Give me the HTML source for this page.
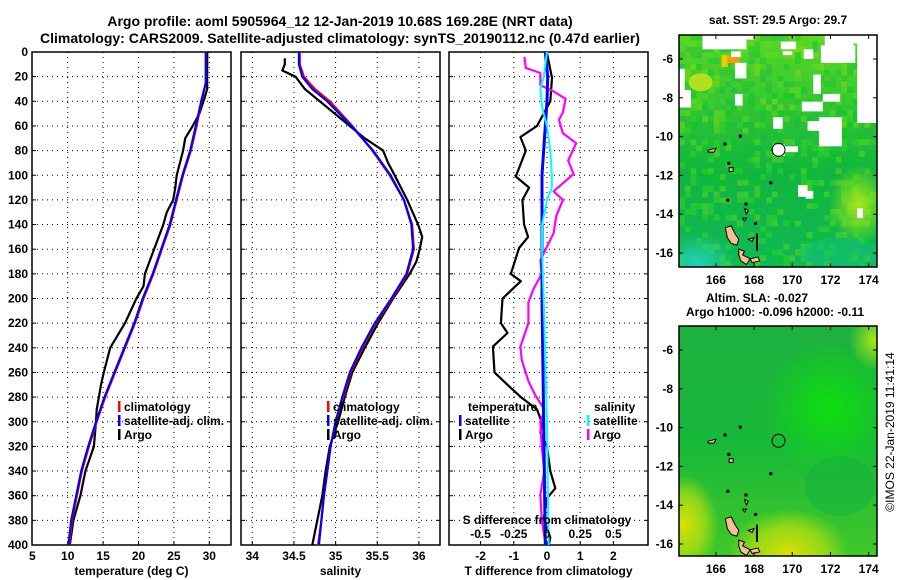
<!DOCTYPE html>
<html><head><meta charset="utf-8"><style>
html,body{margin:0;padding:0;background:#fff;}
svg{display:block;font-family:"Liberation Sans",Arial,sans-serif;font-weight:bold;}
</style></head><body>
<svg id="c" width="900" height="580" viewBox="0 0 900 580" xmlns="http://www.w3.org/2000/svg">
<defs>
<linearGradient id="topg" x1="0" y1="0" x2="0" y2="1">
<stop offset="0" stop-color="#5ed628"/><stop offset="0.35" stop-color="#2dc235"/><stop offset="0.6" stop-color="#12b440"/><stop offset="1" stop-color="#10b858"/></linearGradient>
<radialGradient id="cy" cx="0.5" cy="0.5" r="0.5"><stop offset="0" stop-color="#22d0b8"/><stop offset="1" stop-color="#22d0b8" stop-opacity="0"/></radialGradient>
<radialGradient id="yg" cx="0.5" cy="0.5" r="0.5"><stop offset="0" stop-color="#a8e818"/><stop offset="1" stop-color="#a8e818" stop-opacity="0"/></radialGradient>
<linearGradient id="botg" x1="0" y1="0" x2="0" y2="1">
<stop offset="0" stop-color="#1fb040"/><stop offset="0.5" stop-color="#18b83a"/><stop offset="1" stop-color="#40c828"/></linearGradient>
<radialGradient id="yel" cx="0.5" cy="0.5" r="0.5"><stop offset="0" stop-color="#dde000"/><stop offset="0.6" stop-color="#b8e010" stop-opacity="0.7"/><stop offset="1" stop-color="#b8e010" stop-opacity="0"/></radialGradient>
<radialGradient id="grn" cx="0.5" cy="0.5" r="0.5"><stop offset="0" stop-color="#10dd10"/><stop offset="1" stop-color="#10dd10" stop-opacity="0"/></radialGradient>
</defs>
<g id="titles">
<text x="340" y="26" text-anchor="middle" font-size="14">Argo profile: aoml 5905964_12 12-Jan-2019 10.68S 169.28E (NRT data)</text>
<text x="340" y="43" text-anchor="middle" font-size="14">Climatology: CARS2009. Satellite-adjusted climatology: synTS_20190112.nc (0.47d earlier)</text>
<text x="778" y="24" text-anchor="middle" font-size="12">sat. SST: 29.5 Argo: 29.7</text>
<text x="757" y="302" text-anchor="middle" font-size="12">Altim. SLA: -0.027</text>
<text x="775" y="316" text-anchor="middle" font-size="12">Argo h1000: -0.096 h2000: -0.11</text>
<text transform="translate(894,432) rotate(-90)" text-anchor="middle" font-size="12" font-weight="normal">©IMOS 22-Jan-2019 11:41:14</text>
</g>
<g id="plots"></g>
<g id="maps"></g>
</svg>
<script>
// ---------- data ----------
const depthTicks = [0,20,40,60,80,100,120,140,160,180,200,220,240,260,280,300,320,340,360,380,400];
const tempTicks = [5,10,15,20,25,30];
const salTicks = [34,34.5,35,35.5,36];
const salTickLabels = ["34","34.5","35","35.5","36"];
const tdiffTicks = [-2,-1,0,1,2];
const sdiffTicks = [-0.5,-0.25,0,0.25,0.5];
const sdiffTickLabels = ["-0.5","-0.25","0","0.25","0.5"];

const argoTDepth = [0,30,38,50,60,70,80,100,110,120,130,140,160,180,190,200,220,240,260,270,290,300,320,340,360,380,400];
const argoTemp = [29.7,29.7,29.3,28.6,27.65,26.6,26.3,25.4,25.2,24.9,24.0,23.5,22.2,20.9,20.7,19.7,18.1,16.0,15.1,14.7,14.1,14.0,13.7,12.5,11.8,10.8,10.3];
const climDepth = [0,25,40,60,80,100,120,140,160,180,200,220,240,260,280,300,320,340,360,380,400];
const climTemp = [29.5,29.5,28.9,28.2,27.4,26.3,25.4,24.5,23.3,22.1,20.7,19.5,18.1,16.7,15.3,14.1,13.0,12.0,11.3,10.6,10.2];
const satTemp = [29.5,29.5,28.85,28.1,27.3,26.2,25.3,24.4,23.2,22.0,20.6,19.4,18.0,16.6,15.2,14.0,12.9,11.9,11.2,10.5,10.1];

const argoSDepth = [5,10,15,20,30,40,50,60,70,80,90,100,120,140,150,160,170,180,200,220,240,260,280,300,320,340,360,380,400];
const argoSal = [34.39,34.39,34.36,34.52,34.63,34.81,34.99,35.17,35.35,35.57,35.63,35.71,35.86,35.99,36.04,36.01,35.97,35.89,35.69,35.51,35.35,35.20,35.11,35.03,34.93,34.88,34.84,34.78,34.72];
const climSDepth = [0,10,20,30,40,60,80,100,120,140,160,180,200,220,240,260,280,300,320,340,360,380,400];
const climSal = [34.57,34.57,34.62,34.75,34.93,35.20,35.44,35.65,35.82,35.92,35.94,35.86,35.68,35.48,35.32,35.18,35.09,35.00,34.94,34.90,34.86,34.83,34.79];
const satSal = [34.56,34.56,34.60,34.72,34.90,35.19,35.45,35.66,35.82,35.91,35.93,35.85,35.67,35.47,35.31,35.17,35.08,35.00,34.94,34.90,34.86,34.83,34.80];

const argoTdDepth = [1,21,40,60,69,80,101,110,120,140,150,159,180,186,200,220,228,239,260,270,280,290,301,309,320,340,354,362,379,394,400];
const argoTdiff = [0,0.15,0.1,-0.3,-0.8,-0.64,-0.94,-0.54,-0.74,-0.69,-0.57,-0.84,-1.09,-0.79,-1.34,-1.39,-1.19,-1.63,-1.58,-1.19,-0.79,-0.3,-0.15,-0.2,0,0.1,0.25,0,-0.1,0.1,0.05];
const satTdDepth = [0,20,40,60,100,200,300,400];
const satTdiff = [-0.05,0.02,0,-0.05,-0.15,-0.15,-0.1,-0.05];
const argoSdDepth = [4,13,17,27,32,38,49,55,66,74,88,99,113,120,133,147,158,169,180,192,203,220,239,250,267,278,290,301,320,340,359,379,400];
const argoSdiff = [-0.17,-0.16,-0.05,-0.05,0.05,0.14,0.12,0.09,0.12,0.22,0.16,0.2,0.05,0.12,0.07,0.05,0,-0.05,-0.04,-0.1,-0.14,-0.14,-0.2,-0.19,-0.14,-0.09,-0.02,-0.05,-0.04,-0.02,-0.05,-0.04,-0.01];
const satSdDepth = [0,20,30,45,60,80,100,110,120,140,160,200,300,400];
const satSdiff = [0,-0.025,-0.05,-0.037,0,0.025,0.037,0.037,0,-0.037,-0.037,-0.025,0,0.012];

const lonTicks = [166,168,170,172,174];
const latTicks = [-6,-8,-10,-12,-14,-16];
const argoLon = [169.28];
const argoLat = [-10.68];

// ---------- scales ----------
const Y0 = 52, Y1 = 545;
const yD = d => Y0 + d*(Y1-Y0)/400;
const xT = t => 32.3 + (t-5)*7.08;
const xS = s => 252.3 + (s-34)*83.3;
const xD = t => 547 + t*33.2;
const xSD = s => xD(4*s);
const NS = "http://www.w3.org/2000/svg";
function mk(tag, attrs, parent){const e=document.createElementNS(NS,tag);for(const k in attrs)e.setAttribute(k,attrs[k]);parent.appendChild(e);return e;}
const plots = document.getElementById('plots');

function panel(name, x0, x1, xticks, xfn, xlabels, axisTitle){
  const g = mk('g',{},plots);
  
  
  depthTicks.forEach((d,i)=>{
    if(i>0 && i<depthTicks.length-1){
      const l = mk('line',{x1:x0,x2:x1,y1:yD(d),y2:yD(d),stroke:'#000','stroke-width':1,'stroke-dasharray':'1,4'},g);
      
      
    }
    mk('line',{x1:x0,x2:x0+4,y1:yD(d),y2:yD(d),stroke:'#000'},g);
    mk('line',{x1:x1-4,x2:x1,y1:yD(d),y2:yD(d),stroke:'#000'},g);
  });
  xticks.forEach((t,i)=>{
    const x = xfn(t);
    const l = mk('line',{x1:x,x2:x,y1:Y0,y2:Y1,stroke:'#000','stroke-width':1,'stroke-dasharray':'1,4'},g);
    
    
    mk('line',{x1:x,x2:x,y1:Y1-4,y2:Y1,stroke:'#000'},g);
    if(xlabels){
      const tx = mk('text',{x:x,y:Y1+15,'text-anchor':'middle','font-size':12},g);
      tx.textContent = xlabels[i];
      
      
    }
  });
  const f = mk('rect',{x:x0,y:Y0,width:x1-x0,height:Y1-Y0,fill:'none',stroke:'#000','stroke-width':1.5},g);
  
  
  const at = mk('text',{x:(x0+x1)/2,y:575,'text-anchor':'middle','font-size':12},g);
  at.textContent = axisTitle;
  
  
  return g;
}
function line(g, depths, vals, xfn, color, w, name){
  const pts = depths.map((d,i)=>xfn(vals[i]).toFixed(1)+','+yD(d).toFixed(1)).join(' ');
  const p = mk('polyline',{points:pts,fill:'none',stroke:color,'stroke-width':w,'stroke-linejoin':'round'},g);
  
  
}
function legendItem(g,x,y,color,label,name){
  mk('rect',{x:x,y:y-10,width:2.5,height:11,fill:color},g);
  const t = mk('text',{x:x+6,y:y,'font-size':12},g);
  t.textContent = label;
  
  
}

depthTicks.forEach(d=>{
  const t = mk('text',{x:28,y:yD(d)+4,'text-anchor':'end','font-size':12},plots);
  t.textContent = d;
  
  
});

const p1 = panel('temperature-panel',32,231,tempTicks.slice(1),xT,null,'temperature (deg C)');
tempTicks.forEach(t=>{const e=mk('text',{x:xT(t),y:Y1+15,'text-anchor':'middle','font-size':12},p1);e.textContent=t;
  
  });
line(p1,argoTDepth,argoTemp,xT,'#000',2.2,'argo-temperature-line');
line(p1,climDepth,climTemp,xT,'#f00',2.2,'climatology-temperature-line');
line(p1,climDepth,satTemp,xT,'#00f',2.2,'satellite-temperature-line');
legendItem(p1,118,411,'#f00','climatology','legend-climatology');
legendItem(p1,118,425,'#00f','satellite-adj. clim.','legend-satellite-adj');
legendItem(p1,118,439,'#000','Argo','legend-argo');

const p2 = panel('salinity-panel',241,440,salTicks,xS,salTickLabels,'salinity');
line(p2,argoSDepth,argoSal,xS,'#000',2.2,'argo-salinity-line');
line(p2,climSDepth,climSal,xS,'#f00',2.2,'climatology-salinity-line');
line(p2,climSDepth,satSal,xS,'#00f',2.2,'satellite-salinity-line');
legendItem(p2,327,411,'#f00','climatology','legend-climatology');
legendItem(p2,327,425,'#00f','satellite-adj. clim.','legend-satellite-adj');
legendItem(p2,327,439,'#000','Argo','legend-argo');

const p3 = panel('difference-panel',449,648,tdiffTicks,xD,tdiffTicks.map(String),'T difference from climatology');
line(p3,argoTdDepth,argoTdiff,xD,'#000',2.2,'argo-temperature-diff-line');
line(p3,argoSdDepth,argoSdiff,xSD,'#f0f',2.2,'argo-salinity-diff-line');
line(p3,satTdDepth,satTdiff,xD,'#00f',3,'satellite-temperature-diff-line');
line(p3,satSdDepth,satSdiff,xSD,'#0ff',2,'satellite-salinity-diff-line');
{const t=mk('text',{x:468,y:411,'font-size':12},p3);t.textContent='temperature';

}
{const t=mk('text',{x:594,y:411,'font-size':12},p3);t.textContent='salinity';

}
legendItem(p3,459,425,'#00f','satellite','legend-t-satellite');
legendItem(p3,459,439,'#000','Argo','legend-t-argo');
legendItem(p3,587,425,'#0ff','satellite','legend-s-satellite');
legendItem(p3,587,439,'#f0f','Argo','legend-s-argo');
{const t=mk('text',{x:547,y:524,'text-anchor':'middle','font-size':12},p3);t.textContent='S difference from climatology';

}
sdiffTicks.forEach((s,i)=>{const t=mk('text',{x:xSD(s),y:538,'text-anchor':'middle','font-size':12},p3);t.textContent=sdiffTickLabels[i];
  
  });

// ---------- maps ----------
const maps = document.getElementById('maps');
const MX0=679, MX1=877;
const lonX = l => MX0 + (l-164.07)*19.1;
function hash(i,j){const s=Math.sin(i*127.1+j*311.7)*43758.5453;return s-Math.floor(s);}
function map(name, top, bottom, isSST){
  const latY = la => top + 24 + (-6-la)*19.4;
  const g = mk('g',{},maps);
  
  
  const cp = 'clip'+top;
  const cl = mk('clipPath',{id:cp},g); mk('rect',{x:MX0,y:top,width:MX1-MX0,height:bottom-top},cl);
  const inner = mk('g',{'clip-path':'url(#'+cp+')'},g);
  if(isSST){
    mk('rect',{x:MX0,y:top,width:MX1-MX0,height:bottom-top,fill:'url(#topg)'},inner);
    // decorative pixel texture
    const pal = ['#00cc22','#33dd22','#66e01a','#11bb44','#22c030','#88e010'];
    const tex = mk('g',{opacity:0.45},inner);
    for(let i=0;i<34;i++){for(let j=0;j<40;j++){
      const h=hash(i,j); if(h<0.45) continue;
      const yy = top + j*5.8;
      const k = Math.min(pal.length-1, Math.floor(hash(j,i)*(j<18?6:4)));
      mk('rect',{x:MX0+i*5.8,y:yy,width:5.8,height:5.8,fill:pal[k]},tex);
    }}
    mk('ellipse',{cx:lonX(165),cy:latY(-16.5),rx:40,ry:30,fill:'url(#cy)'},inner);
    mk('ellipse',{cx:lonX(173.5),cy:latY(-13.5),rx:30,ry:40,fill:'url(#yg)'},inner);
    mk('ellipse',{cx:lonX(172.5),cy:latY(-16),rx:40,ry:15,fill:'#14c080',opacity:0.5},inner);
    mk('ellipse',{cx:lonX(165.2),cy:latY(-7.2),rx:12,ry:9,fill:'#b0e020'},inner);
    mk('rect',{x:lonX(166.3),y:latY(-5.8),width:6,height:12,fill:'#e8d000'},inner);
    mk('rect',{x:lonX(166.6),y:latY(-5.8),width:12,height:8,fill:'#f0a000'},inner);
    const w = [[164.07,-6.5,0.3,1.2],[164.1,-7.6,0.6,0.6],[164.1,-8.1,0.6,0.4],[165.3,-4.6,2.3,0.9],[166.8,-5.6,0.5,0.3],[167.0,-6.2,0.6,0.8],[167.0,-7.8,0.4,0.6],[167.4,-4.6,0.6,0.4],[169.4,-5.1,0.8,0.4],[169.5,-5.6,0.5,0.2],[170.6,-5.5,0.5,0.5],[171.7,-4.8,1.5,0.6],[171.5,-5.3,1.8,0.9],[172.5,-4.6,2,0.6],[173.4,-4.9,1.0,4.4],[171.1,-6.8,0.4,1.0],[170.5,-8.2,1.1,0.5],[171.6,-7.8,0.9,0.4],[169.0,-9.0,0.5,0.6],[170.8,-9.2,1.7,0.5],[171.4,-9.0,1.2,1.5],[169.6,-10.5,0.7,0.3],[169.0,-10.4,0.6,0.6],[170.3,-12.5,0.5,0.6],[170.7,-12.8,0.4,0.4],[173.4,-13.7,0.3,0.5]];
    w.forEach(r=>{const e=mk('rect',{x:lonX(r[0]),y:latY(r[1]),width:r[2]*19.1,height:r[3]*19.4,fill:'#fff'},inner);
      
      });
  } else {
    mk('rect',{x:MX0,y:top,width:MX1-MX0,height:bottom-top,fill:'url(#botg)'},inner);
    mk('ellipse',{cx:lonX(172),cy:latY(-9),rx:70,ry:70,fill:'url(#grn)'},inner);
    mk('ellipse',{cx:lonX(174.3),cy:latY(-5.5),rx:25,ry:30,fill:'url(#yg)'},inner);
    mk('ellipse',{cx:lonX(169.8),cy:latY(-16.5),rx:60,ry:45,fill:'url(#yel)'},inner);
    mk('ellipse',{cx:lonX(164.3),cy:latY(-15),rx:35,ry:50,fill:'url(#yel)'},inner);
    mk('ellipse',{cx:lonX(172.5),cy:latY(-13),rx:35,ry:30,fill:'#10b040',opacity:0.4},inner);
  }
  const isl = [
    [[166.5,-14.7],[166.8,-14.6],[167.0,-15.0],[167.2,-15.3],[167.1,-15.6],[166.8,-15.5],[166.6,-15.2]],
    [[167.2,-15.8],[167.5,-15.9],[167.4,-16.1],[167.8,-16.3],[167.6,-16.6],[167.3,-16.4],[167.2,-16.1]],
    [[167.7,-15.3],[168.0,-15.2],[167.9,-15.4]],
    [[167.8,-16.3],[168.2,-16.2],[168.3,-16.4],[167.9,-16.5]],
    [[165.6,-10.7],[166.0,-10.6],[165.9,-10.8],[165.6,-10.8]],
    [[166.7,-11.6],[166.9,-11.6],[166.9,-11.8],[166.7,-11.8]],
    [[167.5,-13.7],[167.7,-13.8],[167.6,-14.0]],
    [[167.4,-14.2],[167.6,-14.2],[167.5,-14.35]]
  ];
  isl.forEach(p=>{const e=mk('polygon',{points:p.map(q=>lonX(q[0]).toFixed(1)+','+latY(q[1]).toFixed(1)).join(' '),fill:'#f8c090',stroke:'#000','stroke-width':1},inner);
    
    });
  mk('rect',{x:lonX(168.1),y:latY(-15.0),width:2,height:latY(-15.9)-latY(-15.0),fill:'#000'},inner);
  [[166.6,-11.3],[166.4,-10.3],[167.2,-9.9],[168.8,-12.3],[166.55,-13.2],[167.5,-13.4],[168.0,-14.4]].forEach(q=>{
    mk('rect',{x:lonX(q[0]),y:latY(q[1]),width:3,height:3,fill:'#000'},inner);
  });
  argoLon.forEach((lo,i)=>{
    const c = mk('circle',{cx:lonX(lo),cy:latY(argoLat[i]),r:6.5,fill:'none',stroke:'#000','stroke-width':1},inner);
    
    
  });
  mk('rect',{x:MX0,y:top,width:MX1-MX0,height:bottom-top,fill:'none',stroke:'#000','stroke-width':1.5},g);
  lonTicks.forEach(l=>{
    mk('line',{x1:lonX(l),x2:lonX(l),y1:top,y2:top+4,stroke:'#000'},g);
    mk('line',{x1:lonX(l),x2:lonX(l),y1:bottom-4,y2:bottom,stroke:'#000'},g);
    const t=mk('text',{x:lonX(l),y:bottom+17,'text-anchor':'middle','font-size':12},g);t.textContent=l;
    
    
  });
  latTicks.forEach(la=>{
    mk('line',{x1:MX0,x2:MX0+4,y1:latY(la),y2:latY(la),stroke:'#000'},g);
    mk('line',{x1:MX1-4,x2:MX1,y1:latY(la),y2:latY(la),stroke:'#000'},g);
    const t=mk('text',{x:673,y:latY(la)+4,'text-anchor':'end','font-size':12},g);t.textContent=la;
    
    
  });
}
map('sst-map',35,267,true);
map('sla-map',326,556,false);
</script>
</body></html>
